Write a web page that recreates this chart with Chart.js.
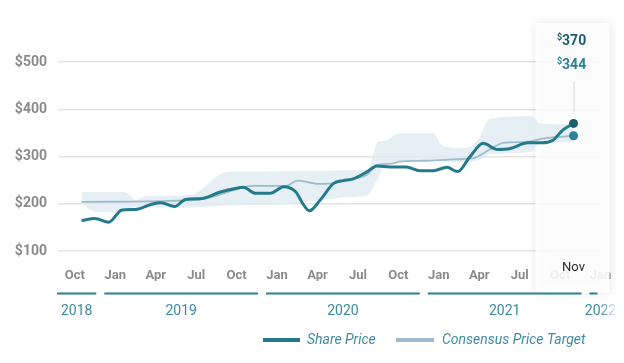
<!DOCTYPE html>
<html>
<head>
<meta charset="utf-8">
<script src="https://cdn.jsdelivr.net/npm/chart.js@4/dist/chart.umd.min.js"></script>
<style>
  html, body { margin: 0; padding: 0; background: #fff; }
  #wrap { width: 624px; height: 363px; }
</style>
</head>
<body>
<div id="wrap"><canvas id="chart"></canvas></div>
<script>
// x values are months after the Oct 2018 tick
const tickMonths = [0, 3, 6, 9, 12, 15, 18, 21, 24, 27, 30, 33, 36, 39];
const tickLabels = ["Oct", "Jan", "Apr", "Jul", "Oct", "Jan", "Apr", "Jul", "Oct", "Jan", "Apr", "Jul", "Oct", "Jan"];
const years = ["2018", "2019", "2020", "2021", "2022"];
const yearStarts = [-3, 3, 15, 27, 39];
const hoverLabel = "Nov";

const priceMonths = [0.5, 1.5, 2.5, 3.5, 4.5, 5.7, 6.4, 7.4, 8.2, 9.4, 10.8, 12.0, 12.5, 13.4, 14.5, 15.5, 16.4, 16.9, 17.4, 18.2, 19.2, 19.9, 20.6, 21.7, 22.4, 23.4, 24.6, 25.6, 26.6, 27.6, 28.4, 29.3, 30.3, 31.3, 32.3, 33.6, 34.7, 35.5, 36.2, 37];
const priceValues = [164, 169, 161, 187, 188, 199, 202, 194, 209, 211, 225, 233, 235, 222, 222, 236, 225, 201, 185, 208, 243, 249, 252, 268, 280, 278, 278, 270, 270, 277, 268, 299, 328, 315, 317, 329, 329, 335, 356, 370];

const targetMonths = [0.5, 5.6, 8.2, 9.3, 10.4, 11.9, 13.2, 15.7, 16.5, 17.4, 18.2, 19.1, 20.4, 21.7, 22.4, 23.5, 24.1, 26.0, 28.2, 29.5, 30.8, 31.8, 33.5, 34.7, 36.2, 37];
const targetValues = [204, 205, 207, 209, 216, 230, 238, 238, 249, 245, 242, 243, 252, 262, 282, 285, 289, 291, 294, 296, 315, 329, 331, 338, 342, 344];

const bandMonths = [0.5, 1.1, 1.9, 3.5, 3.9, 4.5, 5.2, 8.5, 9.3, 10.0, 11.0, 12.2, 16.0, 17.4, 18.9, 20.0, 21.7, 22.5, 23.0, 24.1, 26.6, 27.3, 28.9, 29.9, 30.8, 33.9, 34.5, 37];
const targetHigh = [225, 225, 225, 225, 222, 208, 216, 218, 228, 245, 265, 268, 269, 270, 270, 271, 272, 331, 333, 349, 349, 322, 318, 335, 380, 385, 370, 368];
const targetLow = [203, 188, 182, 182, 186, 192, 192, 192, 193, 194, 196, 197, 200, 205, 210, 214, 218, 255, 282, 290, 292, 290, 288, 292, 305, 310, 330, 330];

const pts = (xs, ys) => xs.map((x, i) => ({ x: x, y: ys[i] }));

const PRICE = "#247a8d";
const TARGET = "#9fbccd";
const FONT = "Roboto";

const overlay = {
  id: "overlay",
  beforeDatasetsDraw(chart) {
    const { ctx } = chart;
    const px = chart.scales.x.getPixelForValue(priceMonths[priceMonths.length - 1]);
    ctx.save();
    ctx.shadowColor = "rgba(0,0,0,0.11)";
    ctx.shadowBlur = 10;
    ctx.fillStyle = "rgba(255,255,255,0.88)";
    ctx.fillRect(px - 38, 23, 74, 270);
    ctx.restore();
  },
  afterDraw(chart) {
    const { ctx, chartArea } = chart;
    const xs = chart.scales.x, ys = chart.scales.y;
    const last = priceMonths.length - 1;
    const px = xs.getPixelForValue(priceMonths[last]);
    const pP = ys.getPixelForValue(priceValues[last]);
    const pT = ys.getPixelForValue(targetValues[targetValues.length - 1]);
    ctx.save();

    // guide line and end dots
    ctx.strokeStyle = "#d6d6d6";
    ctx.lineWidth = 1;
    ctx.beginPath();
    ctx.moveTo(px + 0.5, 82);
    ctx.lineTo(px + 0.5, 112);
    ctx.stroke();
    ctx.fillStyle = "#1c5d70";
    ctx.beginPath(); ctx.arc(px, pP, 4.5, 0, Math.PI * 2); ctx.fill();
    ctx.fillStyle = "#2a8199";
    ctx.beginPath(); ctx.arc(px, pT, 4.5, 0, Math.PI * 2); ctx.fill();

    // values at top of the box
    const valueLabel = (v, y, color) => {
      ctx.font = "bold 9px " + FONT;
      const w1 = ctx.measureText("$").width;
      ctx.font = "bold 14px " + FONT;
      const w2 = ctx.measureText(String(v)).width;
      const x0 = px - 2 - (w1 + w2) / 2;
      ctx.fillStyle = color;
      ctx.textBaseline = "alphabetic";
      ctx.textAlign = "left";
      ctx.font = "bold 9px " + FONT;
      ctx.fillText("$", x0, y - 5);
      ctx.font = "bold 14px " + FONT;
      ctx.fillText(String(v), x0 + w1, y);
    };
    valueLabel(priceValues[last], 45, "#1c5d70");
    valueLabel(targetValues[targetValues.length - 1], 69, "#2a8199");

    ctx.font = "13px " + FONT;
    ctx.fillStyle = "#2b2b2b";
    ctx.textAlign = "center";
    ctx.textBaseline = "middle";
    ctx.fillText(hoverLabel, px, 268);

    // year bands
    ctx.strokeStyle = "#2b7f96";
    ctx.lineWidth = 2;
    ctx.font = "14px " + FONT;
    ctx.fillStyle = "#3a8aa2";
    years.forEach((yr, i) => {
      const x0 = i === 0 ? chartArea.left - 1 : xs.getPixelForValue(yearStarts[i]) - 11;
      const x1 = i === years.length - 1 ? chartArea.right - 3 : xs.getPixelForValue(yearStarts[i + 1]) - 19;
      ctx.beginPath();
      ctx.moveTo(x0, 293.5);
      ctx.lineTo(x1, 293.5);
      ctx.stroke();
      const cx = i === years.length - 1 ? x0 + 11 : (x0 + x1) / 2;
      ctx.fillText(yr, cx, 311);
    });

    // legend
    ctx.lineWidth = 4;
    ctx.strokeStyle = PRICE;
    ctx.beginPath(); ctx.moveTo(263, 340); ctx.lineTo(300, 340); ctx.stroke();
    ctx.strokeStyle = TARGET;
    ctx.beginPath(); ctx.moveTo(396, 340); ctx.lineTo(434, 340); ctx.stroke();
    ctx.font = "italic 14px " + FONT;
    ctx.fillStyle = "#3f8ca2";
    ctx.textAlign = "left";
    ctx.fillText("Share Price", 307, 340);
    ctx.fillText("Consensus Price Target", 442, 340);

    // right edge fade
    const g = ctx.createLinearGradient(600, 0, 616, 0);
    g.addColorStop(0, "rgba(255,255,255,0)");
    g.addColorStop(1, "rgba(255,255,255,0.9)");
    ctx.fillStyle = g;
    ctx.fillRect(600, 295, 24, 25);
    ctx.restore();
  }
};

new Chart(document.getElementById("chart"), {
  type: "line",
  data: {
    datasets: [
      {
        label: "Share Price",
        data: pts(priceMonths, priceValues),
        borderColor: PRICE,
        borderWidth: 3,
        pointRadius: 0,
        cubicInterpolationMode: "monotone",
        order: 0,
      },
      {
        label: "Consensus Price Target",
        data: pts(targetMonths, targetValues),
        borderColor: TARGET,
        borderWidth: 1.8,
        pointRadius: 0,
        cubicInterpolationMode: "monotone",
        order: 1,
      },
      {
        label: "High",
        data: pts(bandMonths, targetHigh),
        borderWidth: 0,
        pointRadius: 0,
        cubicInterpolationMode: "monotone",
        fill: false,
        order: 2,
      },
      {
        label: "Low",
        data: pts(bandMonths, targetLow),
        borderWidth: 0,
        pointRadius: 0,
        cubicInterpolationMode: "monotone",
        backgroundColor: "rgba(224,235,240,0.8)",
        fill: "-1",
        order: 3,
      },
    ],
  },
  options: {
    responsive: true,
    maintainAspectRatio: false,
    animation: false,
    layout: { padding: { top: 62, right: 23.5, bottom: 82, left: 0 } },
    plugins: { legend: { display: false }, tooltip: { enabled: false } },
    scales: {
      x: {
        type: "linear",
        min: -1.25,
        max: 39,
        grid: { display: false },
        border: { display: false },
        afterBuildTicks: (s) => { s.ticks = tickMonths.map((v) => ({ value: v })); },
        afterFit: (s) => { s.height = 30; },
        ticks: {
          autoSkip: false,
          maxRotation: 0,
          padding: 9,
          color: "#8b8b8b",
          font: { family: FONT, size: 13, weight: "bold" },
          callback: (v, i) => tickLabels[i],
        },
      },
      y: {
        min: 100,
        max: 500,
        grid: { color: "#e4e4e4", lineWidth: 1.5, drawTicks: false },
        border: { display: false },
        afterFit: (s) => { s.width = 58; },
        ticks: {
          stepSize: 100,
          padding: 11,
          color: "#8b8b8b",
          font: { family: FONT, size: 14, weight: "bold" },
          callback: (v) => "$" + v,
        },
      },
    },
  },
  plugins: [overlay],
});
</script>
</body>
</html>
